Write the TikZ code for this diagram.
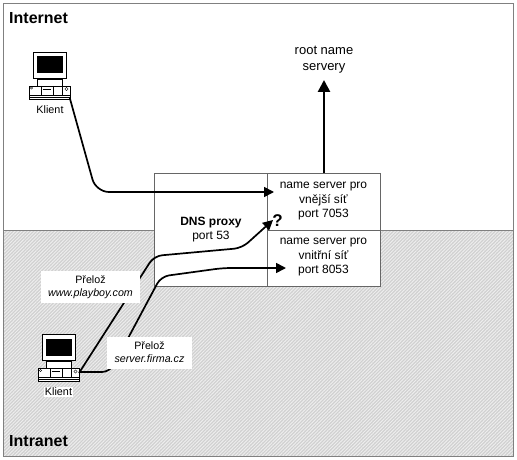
\documentclass[tikz,border=0pt]{standalone}
\usepackage{fontspec}
\setmainfont{Liberation Sans}
\usetikzlibrary{patterns.meta,arrows.meta}
\definecolor{frame}{HTML}{808080}
\definecolor{hatch}{HTML}{EDEDED}
\definecolor{hatchbg}{HTML}{D0D0D0}
\tikzset{
  x=1pt,y=-1pt,
  wire/.style={line width=1.7pt,black,rounded corners=8pt},
  arrowtip/.style={-{Triangle[length=10pt,width=10pt]}},
  box/.style={draw=black!60,line width=.6pt,fill=white,inner sep=0pt},
  lbl/.style={font=\fontsize{12}{14.5}\selectfont,align=center,inner sep=0pt},
  small/.style={font=\fontsize{10.8}{12}\selectfont,align=center,inner sep=0pt},
  tag/.style={fill=white,inner sep=0pt,minimum height=32pt,font=\fontsize{10.7}{13}\selectfont,align=center},
  zone/.style={font=\bfseries\fontsize{16}{16}\selectfont,inner sep=0pt,anchor=west},
}
\newcommand{\pc}[2]{%
  \begin{scope}[shift={(#1,#2)}]
    \draw[fill=white,draw=black,line width=.5pt] (4,0) rectangle (37,26);
    \fill[black] (7.5,4) rectangle (33,21.5);
    \draw[fill=white,draw=black,line width=.4pt] (8,27) rectangle (33,34);
    \draw[fill=white,draw=black,line width=.5pt] (0,34) rectangle (41,47);
    \draw[line width=.35pt] (0,43) -- (41,43) (0,45) -- (41,45);
    \draw[line width=.35pt] (12,34) -- (12,43) (24,34) -- (24,43) (33,34) -- (33,43);
    \draw[line width=.7pt] (13,37) -- (21,37);
    \draw[line width=.35pt] (2,36) circle (1.2) (37,37) circle (1.6);
  \end{scope}}
\begin{document}
\begin{tikzpicture}
\useasboundingbox (0,0) rectangle (517,460);
\path[fill=white] (0,0) rectangle (517,460);
% zones
\fill[hatchbg] (3,230) rectangle (513,456);
\fill[pattern={Lines[angle=45,distance=2.4pt,line width=1pt]},pattern color=hatch] (3,230) rectangle (513,456);
\draw[frame,line width=.9pt] (3,3.5) rectangle (513,456);
\draw[frame,line width=.5pt] (3,230) -- (513,230);
% boxes
\node[box,minimum width=113pt,minimum height=113pt] (proxy) at (210.5,229.5) {};
\node[box,minimum width=113pt,minimum height=57pt] (ext) at (323.5,201.5) {};
\node[box,minimum width=113pt,minimum height=56pt] (int) at (323.5,258) {};
\node[lbl] (exttxt) at (323.5,201.5) {name server pro\\vnější síť\\port 7053};
\node[lbl] (inttxt) at (323.5,257.5) {name server pro\\vnitřní síť\\port 8053};
\node[lbl] (proxytxt) at (211,229.5) {\textbf{DNS proxy}\\port 53};
\node[lbl,font=\fontsize{13}{15.5}\selectfont] (root) at (324,59.5) {root name\\servery};
\node[font=\bfseries\fontsize{17}{17}\selectfont,inner sep=0pt] (q) at (277.5,220.5) {?};
\node[zone] (inet) at (9,18) {Internet};
\node[zone] (intra) at (9,441) {Intranet};
% computers
\pc{29.5}{52}
\pc{38.5}{334.5}
\coordinate (c1) at (69.5,97);
\coordinate (c2a) at (79,372);
\coordinate (c2b) at (79,373);
\coordinate (rt) at (324,80);
\node[small] (k1) at (50,109.5) {Klient};
\node[small,fill=white,inner xsep=1pt,inner ysep=1pt] (k2) at (58.5,392) {Klient};
% connectors
\coordinate (e1) at (274,192);
\coordinate (e2) at (273,220);
\coordinate (e3) at (286,268);
\draw[wire,rounded corners=13pt,arrowtip] (c1) -- (96,192) -- (e1);
\draw[wire,arrowtip] (c2b) -- (154,256) -- (242,248) -- (e2);
\draw[wire,arrowtip] (c2a) -- (110,372) -- (161,276.5) -- (223,268) -- (e3);
\draw[line width=2.6pt,-{Triangle[length=12pt,width=12pt]}] (ext.north -| rt) -- (rt);
% tags
\node[tag,minimum width=99pt] (t1) at (90.5,287) {Přelož\\\textit{www.playboy.com}};
\node[tag,minimum width=85pt] (t2) at (149.5,352.5) {Přelož\\\textit{server.firma.cz}};
\end{tikzpicture}
\end{document}
